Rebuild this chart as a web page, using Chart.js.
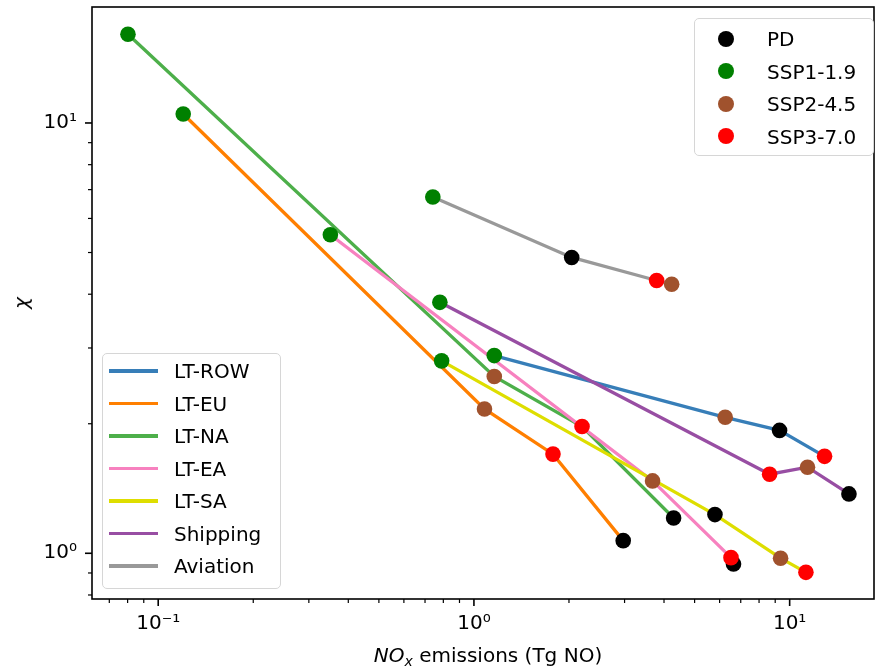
<!DOCTYPE html>
<html>
<head>
<meta charset="utf-8">
<script src="https://cdn.jsdelivr.net/npm/chart.js@4.4.1/dist/chart.umd.min.js"></script>
<style>
    body { margin: 0; background: #fff; }
    #wrap { position: relative; width: 875px; height: 670px; font-family: "DejaVu Sans", sans-serif; color: #000; }
    #chart { position: absolute; left: 0; top: 0; }
    .legend { position: absolute; border: 1.5px solid #d6d6d6; border-radius: 5px; background: rgba(255, 255, 255, 0.8); box-sizing: border-box; }
    .lbl { position: absolute; font-size: 20px; line-height: 24px; height: 24px; white-space: nowrap; }
    .dot { position: absolute; width: 16px; height: 16px; border-radius: 50%; }
    .swatch { position: absolute; width: 49px; height: 3.5px; }
    .axtitle { position: absolute; font-size: 20px; line-height: 24px; white-space: nowrap; }
</style>
</head>
<body>
<div id="wrap">
    <canvas id="chart" width="875" height="670"></canvas>
</div>
<script>
// scenarios, marker colours
const scenarios = ["PD", "SSP1-1.9", "SSP2-4.5", "SSP3-7.0"];
const scenarioColours = ["#000000", "#008000", "#a0522d", "#ff0000"];

// sectors, line colours
const sectors = ["LT-ROW", "LT-EU", "LT-NA", "LT-EA", "LT-SA", "Shipping", "Aviation"];
const sectorColours = ["#377eb8", "#ff7f00", "#4daf4a", "#f781bf", "#dede00", "#984ea3", "#999999"];

// NOx emissions (Tg NO) and chi, in scenario order PD, SSP1, SSP2, SSP3
const rowNOx = [9.29, 1.16, 6.25, 12.9];
const rowChi = [1.93, 2.88, 2.07, 1.68];
const euNOx = [2.97, 0.120, 1.08, 1.78];
const euChi = [1.07, 10.49, 2.165, 1.70];
const naNOx = [4.29, 0.0802, 1.16, 2.20];
const naChi = [1.208, 16.07, 2.575, 1.97];
const eaNOx = [6.64, 0.351, 3.68, 6.52];
const eaChi = [0.944, 5.50, 1.473, 0.977];
const saNOx = [5.80, 0.790, 9.36, 11.26];
const saChi = [1.23, 2.80, 0.974, 0.903];
const shipNOx = [15.41, 0.780, 11.39, 8.64];
const shipChi = [1.374, 3.83, 1.585, 1.527];
const aviNOx = [2.04, 0.741, 4.23, 3.79];
const aviChi = [4.87, 6.73, 4.22, 4.305];

const noxBySector = [rowNOx, euNOx, naNOx, eaNOx, saNOx, shipNOx, aviNOx];
const chiBySector = [rowChi, euChi, naChi, eaChi, saChi, shipChi, aviChi];

// tick positions
const xTicks = [0.07, 0.08, 0.09, 0.1, 0.2, 0.3, 0.4, 0.5, 0.6, 0.7, 0.8, 0.9, 1, 2, 3, 4, 5, 6, 7, 8, 9, 10];
const yTicks = [0.8, 0.9, 1, 2, 3, 4, 5, 6, 7, 8, 9, 10];
const powLabels = { "-1": "10\u207B\u00B9", "0": "10\u2070", "1": "10\u00B9" };

function isPow10(v) {
    const l = Math.log10(v);
    return Math.abs(l - Math.round(l)) < 1e-9;
}

function tickLabel(v) {
    return isPow10(v) ? (powLabels[String(Math.round(Math.log10(v)))] || "") : "";
}

function noPadding(sc) {
    sc.paddingTop = 0;
    sc.paddingBottom = 0;
    sc.paddingLeft = 0;
    sc.paddingRight = 0;
}

let datasets = [];
// markers on top, SSP3 drawn last
for (let k = scenarios.length - 1; k >= 0; k--) {
    datasets.push({
        label: scenarios[k],
        data: sectors.map((s, i) => ({ x: noxBySector[i][k], y: chiBySector[i][k] })),
        showLine: false,
        pointRadius: 7.8,
        pointHoverRadius: 7.8,
        pointBackgroundColor: scenarioColours[k],
        pointBorderWidth: 0,
        order: scenarios.length - 1 - k
    });
}
sectors.forEach((s, i) => {
    const pts = noxBySector[i].map((x, k) => ({ x: x, y: chiBySector[i][k] })).sort((a, b) => a.x - b.x);
    datasets.push({
        label: s,
        data: pts,
        showLine: true,
        borderColor: sectorColours[i],
        borderWidth: 3.3,
        pointRadius: 0,
        order: 4 + (sectors.length - 1 - i)
    });
});

const frameTicks = {
    id: "frameTicks",
    afterDraw(chart) {
        const ctx = chart.ctx;
        const a = chart.chartArea;
        ctx.save();
        ctx.strokeStyle = "#000";
        ["x", "y"].forEach(id => {
            const sc = chart.scales[id];
            sc.ticks.forEach(t => {
                const major = isPow10(t.value);
                const len = major ? 7 : 4;
                const p = sc.getPixelForValue(t.value);
                ctx.lineWidth = major ? 1.6 : 1.2;
                ctx.beginPath();
                if (id === "x") {
                    ctx.moveTo(p, a.bottom);
                    ctx.lineTo(p, a.bottom + len);
                } else {
                    ctx.moveTo(a.left, p);
                    ctx.lineTo(a.left - len, p);
                }
                ctx.stroke();
            });
        });
        ctx.lineWidth = 1.6;
        ctx.strokeRect(a.left, a.top, a.right - a.left, a.bottom - a.top);
        ctx.restore();
    }
};

const tickFont = { family: "DejaVu Sans", size: 20 };

const chart = new Chart(document.getElementById("chart"), {
    type: "scatter",
    data: { datasets: datasets },
    options: {
        responsive: false,
        animation: false,
        layout: { autoPadding: false, padding: { top: 7, right: 1, left: 0, bottom: 0 } },
        plugins: { legend: { display: false }, tooltip: { enabled: false } },
        scales: {
            x: {
                type: "logarithmic",
                min: 0.0617,
                max: 18.5,
                grid: { display: false, drawTicks: false },
                border: { display: false },
                afterBuildTicks: sc => { sc.ticks = xTicks.map(v => ({ value: v })); },
                afterFit: sc => { sc.height = 71; noPadding(sc); },
                ticks: {
                    autoSkip: false, maxRotation: 0, minRotation: 0,
                    padding: 13, color: "#000", font: tickFont,
                    callback: v => tickLabel(v)
                }
            },
            y: {
                type: "logarithmic",
                min: 0.783,
                max: 18.6,
                grid: { display: false, drawTicks: false },
                border: { display: false },
                afterBuildTicks: sc => { sc.ticks = yTicks.map(v => ({ value: v })); },
                afterFit: sc => { sc.width = 92; noPadding(sc); },
                ticks: {
                    autoSkip: false,
                    padding: 15, color: "#000", font: tickFont,
                    callback: v => tickLabel(v)
                }
            }
        }
    },
    plugins: [frameTicks]
});

// legends and axis titles
const wrap = document.getElementById("wrap");
function add(cls, css, html) {
    const d = document.createElement("div");
    d.className = cls;
    Object.assign(d.style, css);
    if (html) d.innerHTML = html;
    wrap.appendChild(d);
    return d;
}

add("legend", { left: "694px", top: "18px", width: "180px", height: "138px" });
scenarios.forEach((s, k) => {
    const cy = 39 + k * 32.4;
    add("dot", { left: (725.7 - 8) + "px", top: (cy - 8) + "px", background: scenarioColours[k] });
    add("lbl", { left: "767px", top: (cy - 11.7) + "px" }, s);
});

add("legend", { left: "102px", top: "353px", width: "179px", height: "236px" });
sectors.forEach((s, i) => {
    const cy = 371 + i * 32.5;
    add("swatch", { left: "109px", top: (cy - 1.75) + "px", background: sectorColours[i] });
    add("lbl", { left: "174px", top: (cy - 11.7) + "px" }, s);
});

add("axtitle", { left: "488px", top: "643px", transform: "translateX(-50%)" },
    '<i>NO<sub style="font-size:14px;vertical-align:-4px;line-height:0">x</sub></i> emissions (Tg NO)');
add("axtitle", { left: "21px", top: "303px", transform: "translate(-50%, -50%) rotate(-90deg)", fontStyle: "italic" }, "\u03C7");
</script>
</body>
</html>
